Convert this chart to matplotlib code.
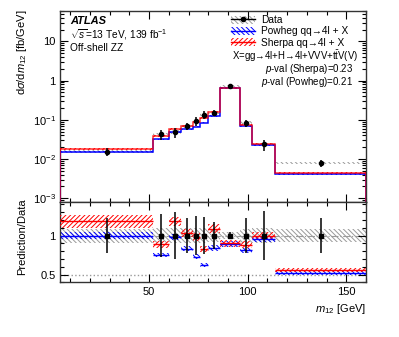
import matplotlib
matplotlib.use("Agg")
import matplotlib.pyplot as plt
import numpy as np
from matplotlib.patches import Rectangle
from matplotlib.lines import Line2D
from matplotlib.legend_handler import HandlerTuple
from matplotlib.ticker import FixedLocator, MultipleLocator, NullFormatter, LogLocator, FuncFormatter

plt.rcParams['font.family'] = ['Liberation Sans', 'DejaVu Sans']
plt.rcParams['mathtext.fontset'] = 'custom'
plt.rcParams['mathtext.rm'] = 'Liberation Sans'
plt.rcParams['mathtext.it'] = 'Liberation Sans:italic'
plt.rcParams['mathtext.bf'] = 'Liberation Sans:bold'
plt.rcParams['hatch.linewidth'] = 0.7

# ---- data ----
bin_edges = [5, 52, 60, 66, 72, 76, 80, 86, 96, 102, 114, 160]
data = [0.0155, 0.0427, 0.0487, 0.069, 0.092, 0.136, 0.149, 0.73, 0.0836, 0.0239, 0.0079]
ratio_sherpa = [1.18, 0.89, 1.18, 1.03, 0.98, 0.83, 1.09, 0.90, 0.88, 1.00, 0.56]
ratio_powheg = [1.00, 0.75, 0.98, 0.83, 0.73, 0.62, 0.84, 0.89, 0.81, 0.95, 0.52]
data_stat_rel = [0.23, 0.28, 0.30, 0.22, 0.25, 0.24, 0.17, 0.04, 0.22, 0.31, 0.23]
data_syst_rel = [0.09, 0.10, 0.10, 0.10, 0.10, 0.10, 0.08, 0.05, 0.09, 0.10, 0.08]
sherpa_unc_rel = [0.07, 0.05, 0.05, 0.05, 0.05, 0.05, 0.05, 0.05, 0.05, 0.05, 0.05]
powheg_unc_rel = [0.05, 0.04, 0.04, 0.04, 0.04, 0.04, 0.04, 0.04, 0.04, 0.04, 0.04]

edges = np.array(bin_edges, float)
d = np.array(data)
rs = np.array(ratio_sherpa)
rp = np.array(ratio_powheg)
stat = np.array(data_stat_rel)
syst = np.array(data_syst_rel)
su = np.array(sherpa_unc_rel)
pu = np.array(powheg_unc_rel)
sherpa = d * rs
powheg = d * rp
centers = 0.5 * (edges[:-1] + edges[1:])
widths = np.diff(edges)

RED = '#ff0000'
BLUE = '#0000ff'
GRAY = '#9a9a9a'
H_BACK = '\\' * 7
H_FWD = '/' * 7

fig = plt.figure(figsize=(3.99, 3.37), dpi=100)
ax = fig.add_axes([0.1516, 0.4006, 0.7657, 0.5668])
axr = fig.add_axes([0.1516, 0.1623, 0.7657, 0.2383])


def band(a, lo, hi, color, hatch, z):
    a.bar(edges[:-1], hi - lo, bottom=lo, width=widths, align='edge',
          facecolor='none', edgecolor=color, hatch=hatch, linewidth=0, zorder=z)


# ---- top panel ----
band(ax, d * (1 - syst), d * (1 + syst), GRAY, H_BACK, 1)
band(ax, powheg * (1 - pu), powheg * (1 + pu), BLUE, H_BACK, 2)
band(ax, sherpa * (1 - su), sherpa * (1 + su), RED, H_FWD, 3)
ax.stairs(powheg, edges, color=BLUE, linewidth=1.1, zorder=4)
ax.stairs(sherpa, edges, color=RED, linewidth=1.1, alpha=0.8, zorder=5)
ax.errorbar(centers, d, yerr=d * stat, fmt='o', color='k', ms=3, elinewidth=1.1,
            capsize=0, zorder=6)

ax.set_yscale('log')
ax.set_xlim(5, 160)
ax.set_ylim(8e-4, 60)
ax.yaxis.set_major_locator(FixedLocator([1e-3, 1e-2, 1e-1, 1, 10]))
ax.yaxis.set_minor_locator(LogLocator(base=10, subs=np.arange(2, 10), numticks=20))
ax.yaxis.set_minor_formatter(NullFormatter())


def logfmt(v, pos):
    e = int(round(np.log10(v)))
    if e == 0:
        return '1'
    if e == 1:
        return '10'
    return '$10^{%d}$' % e


ax.yaxis.set_major_formatter(FuncFormatter(logfmt))
ax.xaxis.set_major_locator(FixedLocator([50, 100, 150]))
ax.xaxis.set_minor_locator(MultipleLocator(10))
ax.set_xticklabels([])

# ---- ratio panel ----
axr.axhline(1.0, color=GRAY, lw=0.8, ls='-.', zorder=0)
axr.axhline(0.5, color=GRAY, lw=1.0, ls=':', zorder=0)
band(axr, 1 - syst, 1 + syst, GRAY, H_BACK, 1)
band(axr, rp * (1 - pu), rp * (1 + pu), BLUE, H_BACK, 2)
band(axr, rs * (1 - su), rs * (1 + su), RED, H_FWD, 3)
axr.hlines(rp, edges[:-1], edges[1:], color=BLUE, lw=1.0, zorder=4)
axr.hlines(rs, edges[:-1], edges[1:], color=RED, lw=1.0, zorder=5)
axr.errorbar(centers, np.ones_like(d), yerr=stat, fmt='s', color='k', ms=2.5,
             elinewidth=1.1, capsize=0, zorder=6)
axr.set_xlim(5, 160)
axr.set_ylim(0.4, 1.43)
axr.yaxis.set_major_locator(FixedLocator([0.5, 1.0]))
axr.yaxis.set_minor_locator(MultipleLocator(0.1))
axr.yaxis.set_major_formatter(FuncFormatter(lambda v, p: '%g' % v))
axr.xaxis.set_major_locator(FixedLocator([50, 100, 150]))
axr.xaxis.set_minor_locator(MultipleLocator(10))

for a in (ax, axr):
    a.tick_params(which='both', direction='in', top=True, right=True, labelsize=8,
                  width=0.8, colors='k')
    a.tick_params(which='major', length=6)
    a.tick_params(which='minor', length=3)
    for s in a.spines.values():
        s.set_linewidth(1.0)
        s.set_color('#333333')

# ---- labels ----
fig.text(0.055, 0.972, 'd$\\sigma$/d$m_{12}$ [fb/GeV]', rotation=90, ha='center',
         va='top', fontsize=8)
fig.text(0.055, 0.41, 'Prediction/Data', rotation=90, ha='center', va='top',
         fontsize=8)
fig.text(0.917, 0.083, '$m_{12}$ [GeV]', ha='right', va='center', fontsize=8)

fig.text(0.175, 0.939, 'ATLAS', fontsize=8, fontweight='bold', style='italic',
         va='center')
fig.text(0.175, 0.896, '$\\sqrt{s}$=13 TeV, 139 fb$^{-1}$', fontsize=7.3, va='center')
fig.text(0.175, 0.857, 'Off-shell ZZ', fontsize=7.3, va='center')

# ---- legend ----
h_data = (Rectangle((0, 0), 1, 1, facecolor='none', edgecolor=GRAY, hatch=H_BACK, lw=0),
          Line2D([], [], color='k', marker='o', ms=3, lw=1.0))
h_pow = (Rectangle((0, 0), 1, 1, facecolor='none', edgecolor=BLUE, hatch=H_BACK, lw=0),
         Line2D([], [], color=BLUE, lw=1.0))
h_she = (Rectangle((0, 0), 1, 1, facecolor='none', edgecolor=RED, hatch=H_FWD, lw=0),
         Line2D([], [], color=RED, lw=1.0))
leg = fig.legend([h_data, h_pow, h_she],
                 ['Data', 'Powheg qq\u21924l + X', 'Sherpa qq\u21924l + X'],
                 handler_map={tuple: HandlerTuple(ndivide=1, pad=0)},
                 loc='upper left', bbox_to_anchor=(0.578, 0.955), frameon=False,
                 fontsize=7.3, handlelength=2.4, handleheight=0.8, handletextpad=0.6,
                 labelspacing=0.12, borderpad=0, borderaxespad=0)
fig.text(0.581, 0.835, 'X=gg\u21924l+H\u21924l+VVV+t$\\bar{\\mathrm{t}}$V(V)', fontsize=6.9,
         va='center')
fig.text(0.885, 0.795, '$p$-val (Sherpa)=0.23', fontsize=7, ha='right', va='center')
fig.text(0.885, 0.757, '$p$-val (Powheg)=0.21', fontsize=7, ha='right', va='center')

fig.savefig('out.png', dpi=100)
